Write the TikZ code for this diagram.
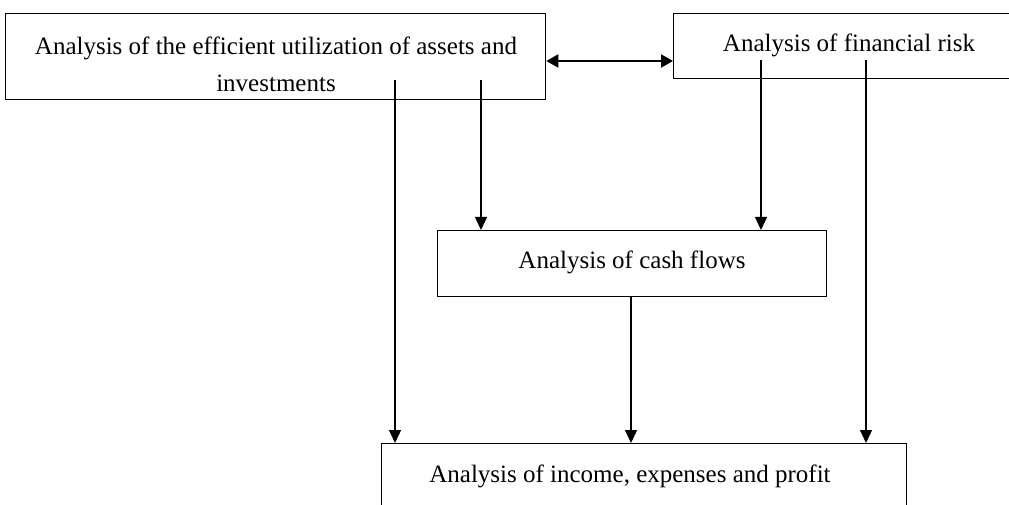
\documentclass[tikz,border=0pt]{standalone}
\usepackage{fontspec}
\setmainfont{Liberation Serif}
\usetikzlibrary{arrows.meta}
\tikzset{
  box/.style={draw, line width=1.3pt, inner sep=0pt},
  txt/.style={font=\fontsize{25}{37}\selectfont, align=center, inner sep=0pt},
  arr/.style={line width=1.3pt, -{Triangle[length=13pt,width=12pt]}},
  darr/.style={line width=2pt, {Triangle[length=12pt,width=13pt]}-{Triangle[length=12pt,width=13pt]}}
}
\begin{document}
\begin{tikzpicture}[x=1pt,y=-1pt]
\useasboundingbox (0,0) rectangle (1009,505);
% boxes
\node[box, anchor=north west, minimum width=540pt, minimum height=86pt] (A) at (5,13) {};
\node[txt] (At) at (276,64) {Analysis of the efficient utilization of assets and\\investments};
\node[box, anchor=north west, minimum width=357pt, minimum height=65pt] (B) at (673,13) {};
\node[txt] (Bt) at (849,45) {Analysis of financial risk};
\node[box, anchor=north west, minimum width=389pt, minimum height=66pt] (C) at (437,230) {};
\node[txt] (Ct) at (632,262) {Analysis of cash flows};
\node[box, anchor=north west, minimum width=525pt, minimum height=80pt] (D) at (381,443) {};
\node[txt] (Dt) at (630,476) {Analysis of income, expenses and profit};
% start points inside boxes
\coordinate (a1) at (395,80);
\coordinate (a2) at (481,80);
\coordinate (b1) at (761,60);
\coordinate (b2) at (866,60);
\coordinate (c1) at (631,296);
% connectors
\draw[darr] (A.east |- 0,61) -- (B.west |- 0,61);
\draw[arr] (a1) -- (a1 |- D.north);
\draw[arr] (a2) -- (a2 |- C.north);
\draw[arr] (b1) -- (b1 |- C.north);
\draw[arr] (b2) -- (b2 |- D.north);
\draw[arr] (c1 |- C.south) -- (c1 |- D.north);
\end{tikzpicture}
\end{document}
